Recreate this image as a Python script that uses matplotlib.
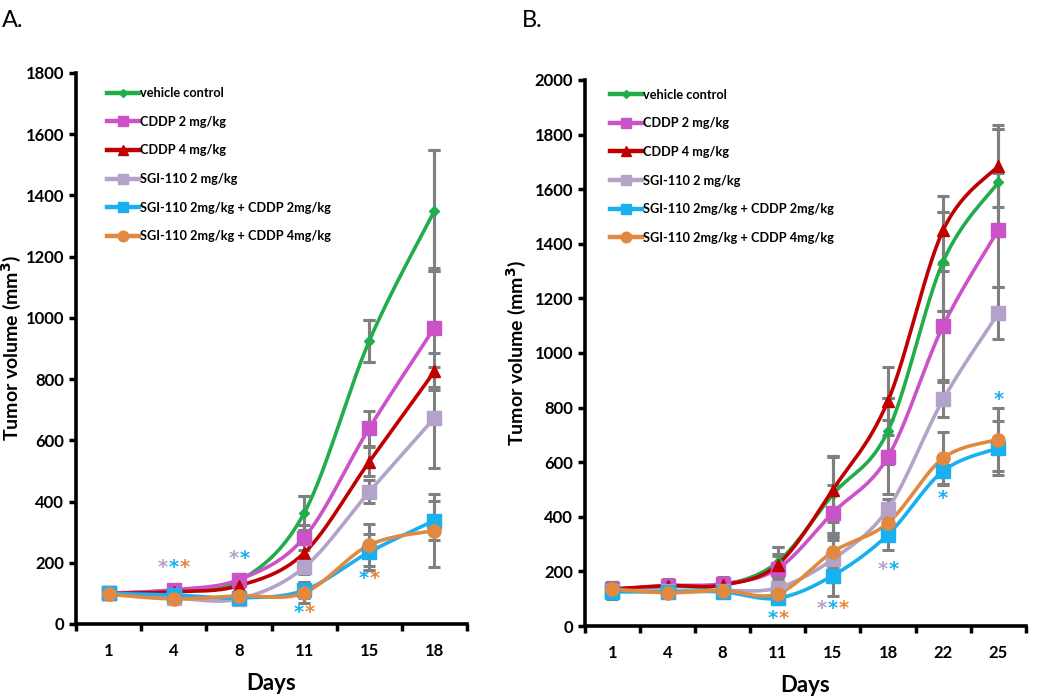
import matplotlib
matplotlib.use("Agg")
import matplotlib.pyplot as plt
import numpy as np

plt.rcParams['font.family'] = ['Lato', 'DejaVu Sans']
plt.rcParams['font.weight'] = 'bold'

# ---- data ----
labels = ["vehicle control", "CDDP 2 mg/kg", "CDDP 4 mg/kg", "SGI-110 2 mg/kg",
          "SGI-110 2mg/kg + CDDP 2mg/kg", "SGI-110 2mg/kg + CDDP 4mg/kg"]
colors = ["#21ad4b", "#cc52c8", "#c00000", "#b4a3c9", "#18b0ee", "#e3893f"]
markers = ["D", "s", "^", "s", "s", "o"]
msizes = [5, 9.5, 9, 9.5, 9.5, 9.5]

# panel A
days_a = ["1", "4", "8", "11", "15", "18"]
vals_a = [
    [100, 110, 140, 362, 925, 1350],
    [100, 112, 145, 282, 640, 968],
    [100, 105, 125, 232, 530, 825],
    [100, 85, 82, 185, 432, 673],
    [100, 95, 85, 110, 235, 338],
    [97, 82, 92, 102, 258, 305],
]
err_a = [
    [12, 15, 18, 56, 68, 198],
    [12, 15, 18, 40, 57, 195],
    [12, 15, 18, 35, 48, 60],
    [12, 12, 12, 22, 38, 165],
    [12, 12, 12, 25, 60, 65],
    [12, 12, 12, 35, 68, 120],
]
# significance stars: (day index, y value, colours)
stars_a = [
    (1, 185, ["#b4a3c9", "#18b0ee", "#e3893f"]),
    (2, 213, ["#b4a3c9", "#18b0ee"]),
    (3, 37, ["#18b0ee", "#e3893f"]),
    (4, 150, ["#18b0ee", "#e3893f"]),
]

# panel B
days_b = ["1", "4", "8", "11", "15", "18", "22", "25"]
vals_b = [
    [135, 145, 150, 235, 482, 715, 1335, 1625],
    [135, 148, 155, 210, 415, 620, 1100, 1450],
    [135, 148, 150, 225, 500, 825, 1450, 1685],
    [130, 130, 130, 140, 245, 430, 830, 1145],
    [125, 125, 125, 102, 185, 335, 568, 652],
    [135, 122, 130, 118, 272, 378, 615, 683],
]
err_b = [
    [25, 25, 25, 55, 140, 120, 180, 195],
    [25, 25, 25, 45, 100, 135, 200, 210],
    [25, 25, 25, 40, 120, 125, 125, 150],
    [25, 25, 25, 35, 85, 35, 65, 95],
    [25, 20, 20, 20, 75, 55, 50, 98],
    [25, 20, 20, 25, 55, 40, 95, 115],
]
stars_b = [
    (3, 28, ["#18b0ee", "#e3893f"]),
    (4, 65, ["#b4a3c9", "#18b0ee", "#e3893f"]),
    (5, 208, ["#b4a3c9", "#18b0ee"]),
    (6, 468, ["#18b0ee"]),
    (7, 830, ["#18b0ee"]),
]


# Excel-like smoothed line through the points (cubic Bezier)
def smooth(x, y, n=30):
    x = np.asarray(x, float)
    y = np.asarray(y, float)
    px = np.concatenate([[x[0]], x, [x[-1]]])
    py = np.concatenate([[y[0]], y, [y[-1]]])
    xs, ys = [], []
    t = np.linspace(0, 1, n)
    for i in range(1, len(px) - 2):
        p0 = np.array([px[i], py[i]])
        p3 = np.array([px[i + 1], py[i + 1]])
        p1 = p0 + (np.array([px[i + 1], py[i + 1]]) - np.array([px[i - 1], py[i - 1]])) / 6
        p2 = p3 - (np.array([px[i + 2], py[i + 2]]) - p0) / 6
        b = ((1 - t) ** 3)[:, None] * p0 + (3 * (1 - t) ** 2 * t)[:, None] * p1 \
            + (3 * (1 - t) * t ** 2)[:, None] * p2 + (t ** 3)[:, None] * p3
        xs.extend(b[:, 0])
        ys.extend(b[:, 1])
    return xs, ys


def draw_panel(ax, days, vals, errs, stars, ymax, step, star_dx, leg_anchor):
    x = np.arange(len(days))
    handles = []
    for i in range(len(labels)):
        ax.errorbar(x, vals[i], yerr=errs[i], fmt='none', ecolor='#808080',
                    elinewidth=2.2, capsize=4, capthick=2.2, zorder=2)
    for i in range(len(labels)):
        sx, sy = smooth(x, vals[i])
        ax.plot(sx, sy, color=colors[i], lw=2.6, zorder=3, solid_capstyle='round')
        ax.plot(x, vals[i], ls='none', marker=markers[i], ms=msizes[i],
                color=colors[i], zorder=4)
        h, = ax.plot([], [], color=colors[i], lw=3.2, marker=markers[i],
                     ms=msizes[i] * 0.8, label=labels[i])
        handles.append(h)
    # control group error bars sit on top of the lines
    ax.errorbar(x, vals[0], yerr=errs[0], fmt='none', ecolor='#808080',
                elinewidth=2.2, capsize=4, capthick=2.2, zorder=3.5)

    for d, yv, cols in stars:
        n = len(cols)
        for k, c in enumerate(cols):
            ax.text(d + (k - (n - 1) / 2) * star_dx, yv, "*", color=c,
                    fontsize=14, ha='center', va='center', family='DejaVu Sans')

    ax.set_xlim(-0.5, len(days) - 0.5)
    ax.set_ylim(0, ymax)
    ax.set_yticks(np.arange(0, ymax + 1, step))
    ax.set_xticks(x)
    ax.set_xticklabels(days)
    ax.set_xticks(np.arange(-0.5, len(days), 1), minor=True)
    ax.tick_params(axis='x', which='major', length=0, pad=14, labelsize=12)
    ax.tick_params(axis='x', which='minor', length=5, width=2.5, direction='out')
    ax.tick_params(axis='y', length=5, width=2.5, direction='out', labelsize=12)
    for s in ['top', 'right']:
        ax.spines[s].set_visible(False)
    for s in ['left', 'bottom']:
        ax.spines[s].set_linewidth(2.6)
    for lab in ax.get_xticklabels() + ax.get_yticklabels():
        lab.set_fontweight('bold')
    ax.set_xlabel("Days", fontsize=16, fontweight='bold', labelpad=10)
    ax.set_ylabel("Tumor volume (mm$^3$)", fontsize=14, fontweight='bold')
    leg = ax.legend(handles=handles, loc='upper left', bbox_to_anchor=leg_anchor,
                    frameon=False, handlelength=2.5, handletextpad=0.1,
                    labelspacing=1.3, prop={'weight': 'bold', 'size': 9.2})
    return leg


fig = plt.figure(figsize=(10.5, 6.99), dpi=100)
ax1 = fig.add_axes([0.0724, 0.1073, 0.3724, 0.7883])
ax2 = fig.add_axes([0.557, 0.1044, 0.420, 0.7812])

draw_panel(ax1, days_a, vals_a, err_a, stars_a, 1800, 200, 0.17, (0.05, 0.995))
draw_panel(ax2, days_b, vals_b, err_b, stars_b, 2000, 200, 0.2, (0.03, 1.005))
ax1.yaxis.set_label_coords(-0.135, 0.5)
ax2.yaxis.set_label_coords(-0.13, 0.5)

fig.text(0.002, 0.985, "A.", fontsize=17, va='top', ha='left', fontweight='normal')
fig.text(0.497, 0.985, "B.", fontsize=17, va='top', ha='left', fontweight='normal')

fig.savefig("out.png", dpi=100)
